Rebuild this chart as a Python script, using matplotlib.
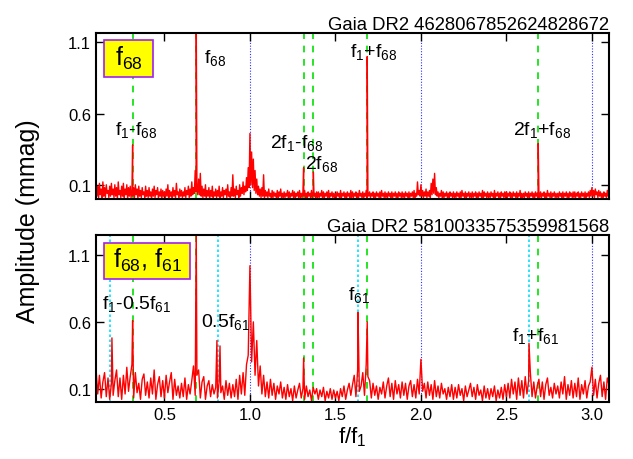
import numpy as np
import matplotlib
matplotlib.use('Agg')
import matplotlib.pyplot as plt
from matplotlib.patches import Rectangle

plt.rcParams['font.family'] = ['Liberation Sans', 'DejaVu Sans']
plt.rcParams['mathtext.fontset'] = 'custom'
plt.rcParams['mathtext.rm'] = 'Liberation Sans'
plt.rcParams['mathtext.it'] = 'Liberation Sans'

# frequency grids of the noise part (f/f1), starting at 0.10
freq_start = 0.10
top_step = 0.005
bot_step = 0.01

# top star: noise amplitudes in units of 0.01 mmag, one row per 0.1 in f/f1
top_noise = [
    13, 2, 9, 1, 11, 3, 7, 0, 12, 2, 8, 1, 10, 4, 6, 1, 9, 2, 11, 3,
    7, 1, 10, 2, 8, 0, 12, 3, 6, 1, 9, 2, 11, 1, 7, 3, 10, 0, 8, 2,
    9, 1, 6, 2, 8, 1, 10, 3, 7, 0, 9, 2, 6, 1, 8, 3, 5, 1, 9, 2,
    6, 1, 8, 2, 5, 0, 7, 2, 9, 1, 6, 3, 8, 1, 5, 2, 7, 0, 6, 2,
    5, 1, 7, 2, 10, 0, 6, 2, 5, 1, 8, 2, 6, 1, 11, 3, 5, 0, 7, 2,
    6, 1, 5, 2, 8, 1, 6, 3, 9, 1, 7, 2, 12, 3, 8, 4, 20, 5, 10, 3,
    14, 3, 18, 2, 9, 1, 7, 2, 10, 1, 6, 2, 8, 0, 6, 2, 9, 1, 5, 2,
    7, 1, 6, 2, 9, 0, 5, 2, 8, 1, 6, 3, 7, 1, 10, 2, 5, 1, 8, 2,
    17, 2, 7, 1, 9, 3, 6, 1, 10, 2, 8, 4, 12, 3, 9, 5, 15, 6, 22, 8,
    46, 10, 33, 8, 28, 6, 20, 4, 14, 3, 9, 2, 7, 1, 8, 2, 17, 1, 6, 2,
    5, 1, 7, 2, 4, 0, 6, 1, 5, 2, 4, 1, 6, 0, 5, 2, 7, 1, 4, 1,
    5, 1, 4, 2, 6, 0, 5, 1, 4, 2, 6, 1, 5, 0, 4, 2, 5, 1, 6, 1,
    4, 1, 5, 2, 6, 1, 4, 0, 5, 2, 4, 1, 6, 1, 5, 2, 4, 0, 5, 1,
    5, 1, 4, 2, 6, 0, 5, 1, 4, 2, 5, 1, 6, 0, 4, 2, 5, 1, 4, 1,
    4, 1, 5, 2, 4, 0, 6, 1, 4, 2, 5, 1, 4, 0, 5, 2, 4, 1, 6, 1,
    5, 1, 4, 2, 5, 0, 4, 1, 6, 2, 4, 1, 5, 0, 4, 2, 6, 1, 5, 2,
    5, 1, 4, 2, 5, 0, 4, 1, 5, 2, 4, 1, 5, 0, 6, 2, 4, 1, 5, 1,
    4, 1, 5, 2, 4, 0, 5, 1, 4, 2, 5, 1, 4, 0, 5, 2, 4, 1, 5, 1,
    4, 1, 5, 2, 4, 0, 5, 1, 4, 2, 5, 1, 6, 0, 4, 2, 12, 3, 6, 2,
    10, 2, 6, 1, 5, 2, 7, 1, 5, 2, 6, 1, 11, 3, 14, 4, 18, 3, 8, 2,
    5, 1, 4, 2, 6, 0, 5, 1, 4, 2, 5, 1, 4, 0, 5, 2, 4, 1, 5, 1,
    4, 1, 5, 2, 4, 0, 5, 1, 6, 2, 4, 1, 5, 0, 4, 2, 5, 1, 4, 1,
    5, 1, 4, 2, 5, 0, 4, 1, 5, 2, 4, 1, 6, 0, 5, 2, 4, 1, 5, 1,
    4, 1, 5, 2, 4, 0, 6, 1, 4, 2, 5, 1, 4, 0, 5, 2, 4, 1, 5, 1,
    5, 1, 4, 2, 5, 0, 4, 1, 5, 2, 4, 1, 5, 0, 4, 2, 6, 1, 4, 1,
    4, 1, 5, 2, 4, 0, 5, 1, 4, 2, 5, 1, 4, 0, 5, 2, 4, 1, 5, 1,
    5, 1, 4, 2, 5, 0, 4, 1, 6, 2, 4, 1, 5, 0, 4, 2, 5, 1, 4, 1,
    4, 1, 5, 2, 4, 0, 5, 1, 4, 2, 5, 1, 4, 0, 5, 2, 4, 1, 5, 1,
    5, 1, 4, 2, 5, 0, 4, 1, 5, 2, 4, 1, 5, 0, 4, 2, 5, 1, 6, 2,
    8, 2, 6, 1, 7, 3, 5, 1, 6, 2, 5, 1, 4, 0, 5, 2, 4, 1, 6, 2, 13,
]
top_peak_f = [0.314, 0.686, 1.314, 1.371, 1.686, 2.686]
top_peak_a = [0.38, 1.30, 0.22, 0.19, 1.00, 0.39]

# bottom star: noise amplitudes in units of 0.01 mmag, one row per 0.1 in f/f1
bot_noise = [
    25, 6, 20, 3, 15, 22, 4, 18, 2, 14,
    5, 16, 24, 4, 18, 2, 20, 6, 26, 8,
    19, 28, 3, 22, 7, 14, 2, 17, 21, 5,
    15, 3, 18, 6, 24, 2, 13, 19, 4, 16,
    3, 20, 7, 15, 22, 2, 17, 5, 12, 3,
    14, 4, 18, 2, 13, 6, 16, 27, 5, 20,
    24, 3, 15, 19, 2, 12, 16, 4, 13, 6,
    11, 3, 15, 7, 12, 2, 16, 5, 14, 3,
    13, 4, 17, 2, 20, 6, 22, 5, 28, 35,
    102, 30, 60, 20, 46, 12, 27, 6, 20, 4,
    15, 3, 17, 5, 14, 2, 12, 6, 15, 3,
    11, 2, 13, 4, 10, 1, 12, 3, 9, 14,
    3, 10, 2, 12, 4, 9, 1, 11, 6, 10,
    2, 9, 4, 11, 1, 8, 3, 10, 2, 9,
    3, 8, 1, 10, 4, 12, 2, 9, 14, 5,
    13, 20, 4, 24, 8, 12, 22, 5, 28, 19,
    16, 3, 14, 5, 12, 2, 11, 6, 15, 3,
    12, 18, 4, 14, 2, 16, 6, 13, 3, 15,
    5, 14, 2, 12, 16, 4, 13, 3, 17, 6,
    32, 8, 14, 3, 15, 5, 13, 2, 16, 4,
    12, 3, 14, 6, 10, 2, 11, 4, 13, 2,
    11, 3, 13, 5, 10, 1, 12, 4, 9, 14,
    4, 11, 2, 13, 5, 9, 1, 12, 3, 10,
    2, 10, 4, 12, 1, 9, 3, 11, 2, 13,
    4, 14, 3, 17, 6, 15, 2, 18, 5, 16,
    3, 19, 6, 16, 22, 4, 15, 3, 12, 17,
    4, 15, 2, 13, 18, 5, 11, 3, 14, 6,
    12, 3, 15, 6, 19, 2, 13, 5, 16, 3,
    14, 4, 18, 2, 13, 6, 16, 3, 12, 15,
    26, 5, 17, 3, 14, 20, 4, 15, 2, 18, 13,
]
bot_peak_f = [0.193, 0.314, 0.686, 0.807, 0.825, 1.314, 1.632, 1.686, 2.632]
bot_peak_a = [0.48, 0.61, 1.30, 0.46, 0.42, 0.33, 0.67, 0.60, 0.44]

# combination-frequency markers
harmonics = [1, 2, 3]
f68_lines = [0.314, 0.686, 1.314, 1.371, 1.686, 2.686]
f61_lines = [0.184, 0.816, 1.632, 2.632]

top_title = 'Gaia DR2 4628067852624828672'
bot_title = 'Gaia DR2 5810033575359981568'

top_labels = [
    (0.73, 1.00, 'f$_{68}$'),
    (0.21, 0.49, 'f$_1$-f$_{68}$'),
    (1.117, 0.40, '2f$_1$-f$_{68}$'),
    (1.32, 0.255, '2f$_{68}$'),
    (1.585, 1.04, 'f$_1$+f$_{68}$'),
    (2.54, 0.49, '2f$_1$+f$_{68}$'),
]
bot_labels = [
    (0.133, 0.74, 'f$_1$-0.5f$_{61}$'),
    (0.713, 0.605, '0.5f$_{61}$'),
    (1.573, 0.81, 'f$_{61}$'),
    (2.53, 0.50, 'f$_1$+f$_{61}$'),
]


def spectrum(noise, step, peak_f, peak_a):
    f = freq_start + step * np.arange(len(noise))
    a = np.array(noise) / 100.0
    f = np.concatenate([f, peak_f])
    a = np.concatenate([a, peak_a])
    order = np.argsort(f)
    return f[order], a[order]


def draw_panel(ax, noise, step, peak_f, peak_a, title, labels, box_text, box_right,
               ymax, cyan):
    for h in harmonics:
        ax.axvline(h, color='#3030ff', ls=(0, (1, 1.5)), lw=0.8, zorder=1)
    for x in f68_lines:
        ax.axvline(x, color='#00e000', ls=(0, (4, 4)), lw=1.2, zorder=1)
    if cyan:
        for x in f61_lines:
            ax.axvline(x, color='#00e0ff', ls=(0, (1.5, 1.5)), lw=1.2, zorder=1)
    f, a = spectrum(noise, step, peak_f, peak_a)
    ax.plot(f, a, color='red', lw=1.0, zorder=2)

    ax.set_xlim(0.1, 3.1)
    ax.set_ylim(0, ymax)
    ax.set_xticks([0.5, 1, 1.5, 2, 2.5, 3])
    ax.set_yticks([0.1, 0.6, 1.1])
    ax.tick_params(direction='in', top=True, right=True, length=6, width=1,
                   labelsize=12)
    for s in ax.spines.values():
        s.set_linewidth(1.5)
    ax.set_title(title, loc='right', fontsize=13.3, pad=3)

    for x, y, t in labels:
        ax.text(x, y, t, fontsize=14, va='center', ha='left', zorder=3)

    # yellow key box
    x0, y0, y1 = 0.016, 0.735, 0.955
    ax.add_patch(Rectangle((x0, y0), box_right - x0, y1 - y0, transform=ax.transAxes,
                           facecolor='yellow', edgecolor='#a020f0', lw=1.2, zorder=4))
    ax.text((x0 + box_right) / 2, (y0 + y1) / 2 + 0.01, box_text, transform=ax.transAxes,
            fontsize=18, va='center', ha='center', zorder=5)


fig = plt.figure(figsize=(6.33, 4.60), dpi=100)
ax1 = fig.add_axes([0.1517, 0.5652, 0.8104, 0.3609])
ax2 = fig.add_axes([0.1517, 0.1239, 0.8104, 0.3630])

draw_panel(ax1, top_noise, top_step, top_peak_f, top_peak_a, top_title, top_labels,
           'f$_{68}$', 0.111, 1.165, False)
draw_panel(ax2, bot_noise, bot_step, bot_peak_f, bot_peak_a, bot_title, bot_labels,
           'f$_{68}$, f$_{61}$', 0.183, 1.25, True)
ax1.tick_params(labelbottom=False)

ax2.set_xlabel('f/f$_1$', fontsize=16, labelpad=2)
fig.text(0.045, 0.52, 'Amplitude (mmag)', rotation=90, fontsize=18,
         va='center', ha='center')

plt.savefig('out.png', dpi=100)
